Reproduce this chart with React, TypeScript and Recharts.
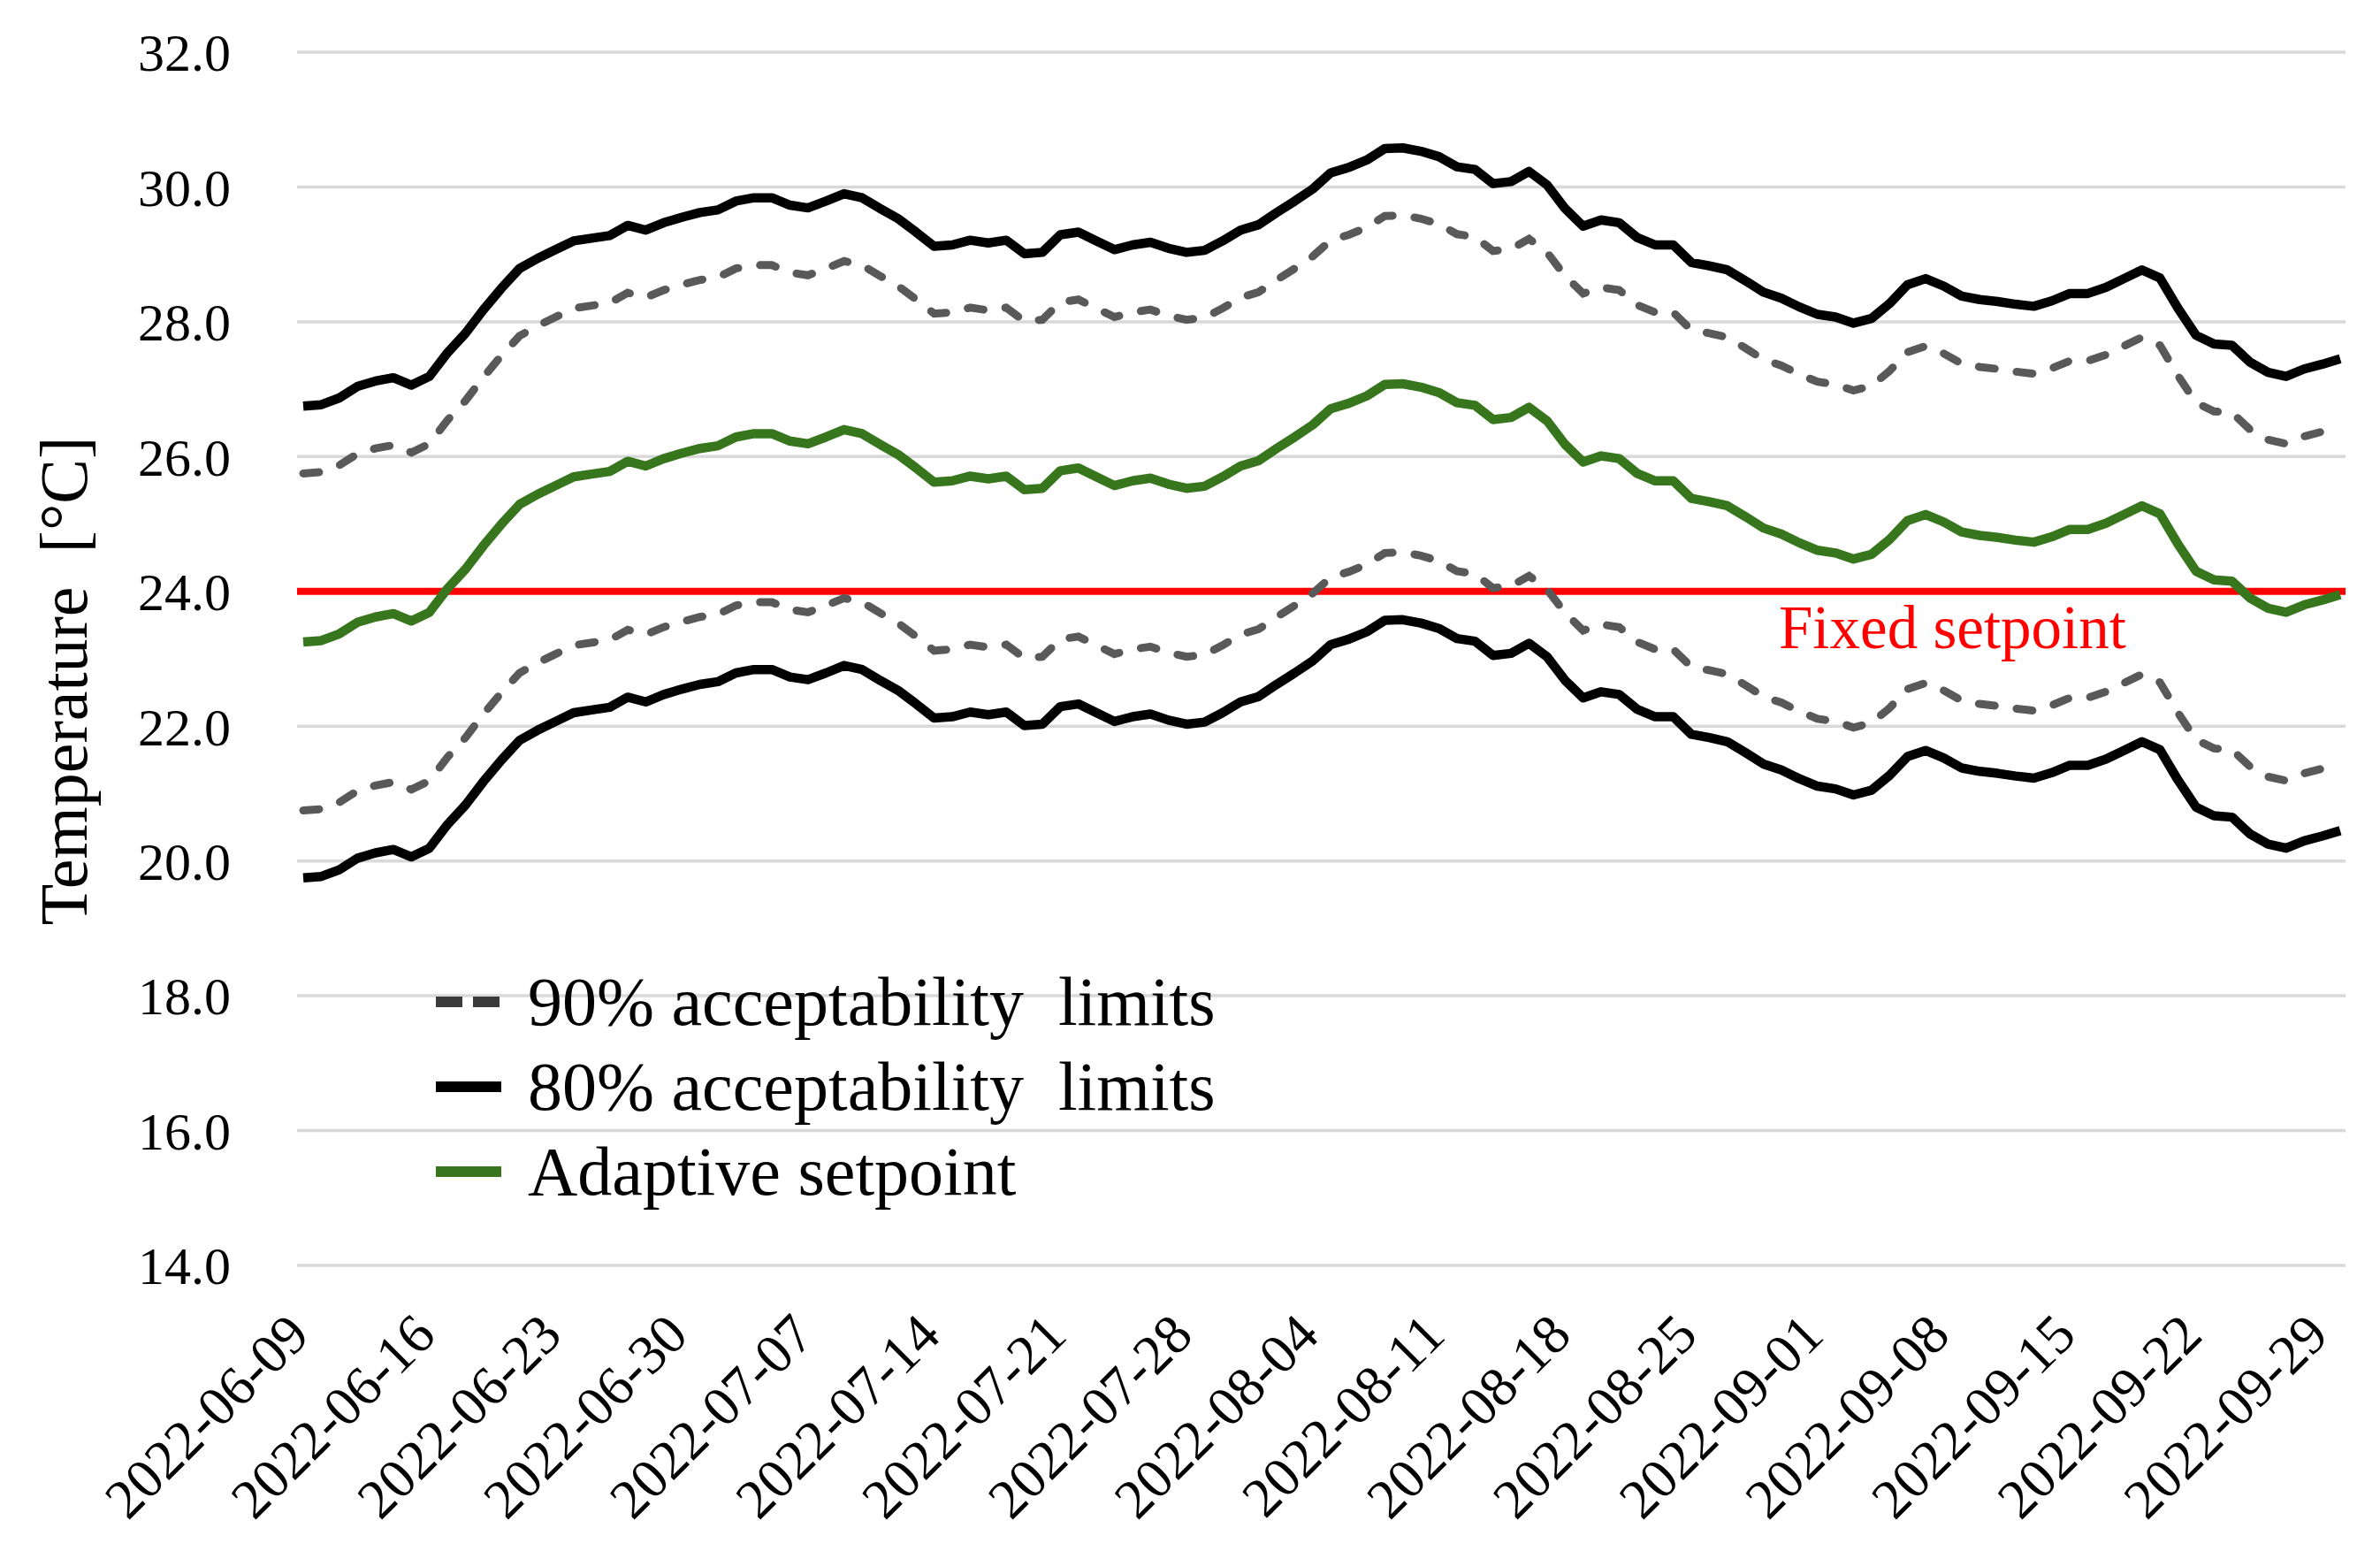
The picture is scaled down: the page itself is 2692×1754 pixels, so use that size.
import { LineChart, Line, XAxis, YAxis, CartesianGrid, ReferenceLine, Legend, Label } from "recharts";

// daily values, 2022-06-09 .. 2022-09-30
const startDay = Date.UTC(2022, 5, 9);
const dates = Array.from({ length: 114 }, (_, i) =>
  new Date(startDay + i * 86400000).toISOString().slice(0, 10)
);

const tickDates = [
  "2022-06-09", "2022-06-16", "2022-06-23", "2022-06-30", "2022-07-07", "2022-07-14",
  "2022-07-21", "2022-07-28", "2022-08-04", "2022-08-11", "2022-08-18", "2022-08-25",
  "2022-09-01", "2022-09-08", "2022-09-15", "2022-09-22", "2022-09-29",
];

const yTicks = [14, 16, 18, 20, 22, 24, 26, 28, 30, 32];

const adaptive = [
  23.25, 23.27, 23.37, 23.54, 23.62, 23.67, 23.56, 23.69, 24.04, 24.33,
  24.68, 25.0, 25.29, 25.44, 25.57, 25.7, 25.74, 25.78, 25.93, 25.86,
  25.97, 26.05, 26.12, 26.16, 26.29, 26.34, 26.34, 26.23, 26.19, 26.29,
  26.4, 26.34, 26.18, 26.03, 25.83, 25.62, 25.64, 25.71, 25.67, 25.71,
  25.51, 25.53, 25.79, 25.83, 25.7, 25.57, 25.64, 25.68, 25.59, 25.53,
  25.56, 25.7, 25.86, 25.94, 26.12, 26.29, 26.47, 26.71, 26.79, 26.9,
  27.07, 27.08, 27.03, 26.95, 26.8, 26.76, 26.55, 26.58, 26.73, 26.53,
  26.18, 25.92, 26.01, 25.97, 25.75, 25.64, 25.64, 25.38, 25.33, 25.27,
  25.11, 24.94, 24.85, 24.72, 24.61, 24.57, 24.48, 24.55, 24.77, 25.05,
  25.14, 25.03, 24.88, 24.83, 24.8, 24.76, 24.73, 24.81, 24.92, 24.92,
  25.01, 25.14, 25.27, 25.15, 24.7, 24.3, 24.17, 24.15, 23.9, 23.75,
  23.69, 23.8, 23.87, 23.95,
];

const upper80 = [
  26.75, 26.77, 26.87, 27.04, 27.12, 27.17, 27.06, 27.19, 27.54, 27.83,
  28.18, 28.5, 28.79, 28.94, 29.07, 29.2, 29.24, 29.28, 29.43, 29.36,
  29.47, 29.55, 29.62, 29.66, 29.79, 29.84, 29.84, 29.73, 29.69, 29.79,
  29.9, 29.84, 29.68, 29.53, 29.33, 29.12, 29.14, 29.21, 29.17, 29.21,
  29.01, 29.03, 29.29, 29.33, 29.2, 29.07, 29.14, 29.18, 29.09, 29.03,
  29.06, 29.2, 29.36, 29.44, 29.62, 29.79, 29.97, 30.21, 30.29, 30.4,
  30.57, 30.58, 30.53, 30.45, 30.3, 30.26, 30.05, 30.08, 30.23, 30.03,
  29.68, 29.42, 29.51, 29.47, 29.25, 29.14, 29.14, 28.88, 28.83, 28.77,
  28.61, 28.44, 28.35, 28.22, 28.11, 28.07, 27.98, 28.05, 28.27, 28.55,
  28.64, 28.53, 28.38, 28.33, 28.3, 28.26, 28.23, 28.31, 28.42, 28.42,
  28.51, 28.64, 28.77, 28.65, 28.2, 27.8, 27.67, 27.65, 27.4, 27.25,
  27.19, 27.3, 27.37, 27.45,
];

const upper90 = [
  25.75, 25.77, 25.87, 26.04, 26.12, 26.17, 26.06, 26.19, 26.54, 26.83,
  27.18, 27.5, 27.79, 27.94, 28.07, 28.2, 28.24, 28.28, 28.43, 28.36,
  28.47, 28.55, 28.62, 28.66, 28.79, 28.84, 28.84, 28.73, 28.69, 28.79,
  28.9, 28.84, 28.68, 28.53, 28.33, 28.12, 28.14, 28.21, 28.17, 28.21,
  28.01, 28.03, 28.29, 28.33, 28.2, 28.07, 28.14, 28.18, 28.09, 28.03,
  28.06, 28.2, 28.36, 28.44, 28.62, 28.79, 28.97, 29.21, 29.29, 29.4,
  29.57, 29.58, 29.53, 29.45, 29.3, 29.26, 29.05, 29.08, 29.23, 29.03,
  28.68, 28.42, 28.51, 28.47, 28.25, 28.14, 28.14, 27.88, 27.83, 27.77,
  27.61, 27.44, 27.35, 27.22, 27.11, 27.07, 26.98, 27.05, 27.27, 27.55,
  27.64, 27.53, 27.38, 27.33, 27.3, 27.26, 27.23, 27.31, 27.42, 27.42,
  27.51, 27.64, 27.77, 27.65, 27.2, 26.8, 26.67, 26.65, 26.4, 26.25,
  26.19, 26.3, 26.37, 26.45,
];

const lower90 = [
  20.75, 20.77, 20.87, 21.04, 21.12, 21.17, 21.06, 21.19, 21.54, 21.83,
  22.18, 22.5, 22.79, 22.94, 23.07, 23.2, 23.24, 23.28, 23.43, 23.36,
  23.47, 23.55, 23.62, 23.66, 23.79, 23.84, 23.84, 23.73, 23.69, 23.79,
  23.9, 23.84, 23.68, 23.53, 23.33, 23.12, 23.14, 23.21, 23.17, 23.21,
  23.01, 23.03, 23.29, 23.33, 23.2, 23.07, 23.14, 23.18, 23.09, 23.03,
  23.06, 23.2, 23.36, 23.44, 23.62, 23.79, 23.97, 24.21, 24.29, 24.4,
  24.57, 24.58, 24.53, 24.45, 24.3, 24.26, 24.05, 24.08, 24.23, 24.03,
  23.68, 23.42, 23.51, 23.47, 23.25, 23.14, 23.14, 22.88, 22.83, 22.77,
  22.61, 22.44, 22.35, 22.22, 22.11, 22.07, 21.98, 22.05, 22.27, 22.55,
  22.64, 22.53, 22.38, 22.33, 22.3, 22.26, 22.23, 22.31, 22.42, 22.42,
  22.51, 22.64, 22.77, 22.65, 22.2, 21.8, 21.67, 21.65, 21.4, 21.25,
  21.19, 21.3, 21.37, 21.45,
];

const lower80 = [
  19.75, 19.77, 19.87, 20.04, 20.12, 20.17, 20.06, 20.19, 20.54, 20.83,
  21.18, 21.5, 21.79, 21.94, 22.07, 22.2, 22.24, 22.28, 22.43, 22.36,
  22.47, 22.55, 22.62, 22.66, 22.79, 22.84, 22.84, 22.73, 22.69, 22.79,
  22.9, 22.84, 22.68, 22.53, 22.33, 22.12, 22.14, 22.21, 22.17, 22.21,
  22.01, 22.03, 22.29, 22.33, 22.2, 22.07, 22.14, 22.18, 22.09, 22.03,
  22.06, 22.2, 22.36, 22.44, 22.62, 22.79, 22.97, 23.21, 23.29, 23.4,
  23.57, 23.58, 23.53, 23.45, 23.3, 23.26, 23.05, 23.08, 23.23, 23.03,
  22.68, 22.42, 22.51, 22.47, 22.25, 22.14, 22.14, 21.88, 21.83, 21.77,
  21.61, 21.44, 21.35, 21.22, 21.11, 21.07, 20.98, 21.05, 21.27, 21.55,
  21.64, 21.53, 21.38, 21.33, 21.3, 21.26, 21.23, 21.31, 21.42, 21.42,
  21.51, 21.64, 21.77, 21.65, 21.2, 20.8, 20.67, 20.65, 20.4, 20.25,
  20.19, 20.3, 20.37, 20.45,
];

const fixedSetpoint = 24;

const data = dates.map((date, i) => ({
  date,
  upper80: upper80[i],
  upper90: upper90[i],
  adaptive: adaptive[i],
  lower90: lower90[i],
  lower80: lower80[i],
}));

const FONT = '"Liberation Serif", "Times New Roman", serif';
const GREEN = "#38761d";
const DASH_GREY = "#595959";

const legendItems = [
  { label: "90% acceptability  limits", color: "#3a3a3a", dash: "30 12" },
  { label: "80% acceptability  limits", color: "#000", dash: undefined },
  { label: "Adaptive setpoint", color: GREEN, dash: undefined },
];

function DateTick({ x, y, payload }: any) {
  return (
    <g transform={`translate(${x - 6},${y + 66})`}>
      <text
        textAnchor="end"
        transform="rotate(-45)"
        dy="0.35em"
        fontSize={63}
        fontFamily={FONT}
        fill="#000"
      >
        {payload.value}
      </text>
    </g>
  );
}

function renderLegend() {
  return (
    <div style={{ fontFamily: FONT, fontSize: 78, color: "#000", lineHeight: "96px" }}>
      {legendItems.map((item) => (
        <div key={item.label} style={{ display: "flex", alignItems: "center", height: 96, whiteSpace: "pre" }}>
          <svg width={108} height={20}>
            <line x1={4} y1={10} x2={78} y2={10} stroke={item.color} strokeWidth={12} strokeDasharray={item.dash} />
          </svg>
          <span>{item.label}</span>
        </div>
      ))}
    </div>
  );
}

export default function App() {
  return (
    <div style={{ position: "absolute", left: 0, top: 0, width: 2692, height: 1754, background: "#fff" }}>
      <LineChart width={2692} height={1754} data={data} margin={{ top: 59, right: 39, left: 0, bottom: 0 }}>
        <CartesianGrid vertical={false} stroke="#d9d9d9" strokeWidth={3.5} />
        <XAxis
          dataKey="date"
          ticks={tickDates}
          interval={0}
          tick={<DateTick />}
          tickLine={false}
          axisLine={false}
          tickSize={0}
          tickMargin={0}
          height={323}
          padding={{ left: 7, right: 6 }}
        />
        <YAxis
          domain={[14, 32]}
          ticks={yTicks}
          tickFormatter={(v: number) => v.toFixed(1)}
          width={336}
          axisLine={false}
          tickLine={false}
          tickSize={0}
          tickMargin={75}
          tick={{ fontSize: 60, fontFamily: FONT, fill: "#000" }}
        >
          <Label
            content={() => (
              <text
                x={72}
                y={770}
                transform="rotate(-90, 72, 770)"
                textAnchor="middle"
                dominantBaseline="central"
                fontSize={76}
                fontFamily={FONT}
                fill="#000"
                style={{ whiteSpace: "pre" }}
              >
                {"Temperature  [°C]"}
              </text>
            )}
          />
        </YAxis>
        <ReferenceLine y={fixedSetpoint} stroke="#ff0000" strokeWidth={8}>
          <Label
            content={({ viewBox }: any) => (
              <text
                x={viewBox.x + 1676}
                y={viewBox.y + 64}
                fontSize={69}
                fontFamily={FONT}
                fill="#ff0000"
              >
                Fixed setpoint
              </text>
            )}
          />
        </ReferenceLine>
        <Line type="linear" dataKey="upper90" stroke={DASH_GREY} strokeWidth={9} strokeDasharray="18 25" strokeLinecap="round" dot={false} isAnimationActive={false} />
        <Line type="linear" dataKey="lower90" stroke={DASH_GREY} strokeWidth={9} strokeDasharray="18 25" strokeLinecap="round" dot={false} isAnimationActive={false} />
        <Line type="linear" dataKey="upper80" stroke="#000" strokeWidth={10.5} strokeLinejoin="round" dot={false} isAnimationActive={false} />
        <Line type="linear" dataKey="lower80" stroke="#000" strokeWidth={10.5} strokeLinejoin="round" dot={false} isAnimationActive={false} />
        <Line type="linear" dataKey="adaptive" stroke={GREEN} strokeWidth={10.5} strokeLinejoin="round" dot={false} isAnimationActive={false} />
        <Legend
          layout="vertical"
          align="center"
          verticalAlign="middle"
          content={renderLegend}
          wrapperStyle={{ left: 489, top: 1085, width: 1100, height: 300 }}
        />
      </LineChart>
    </div>
  );
}
